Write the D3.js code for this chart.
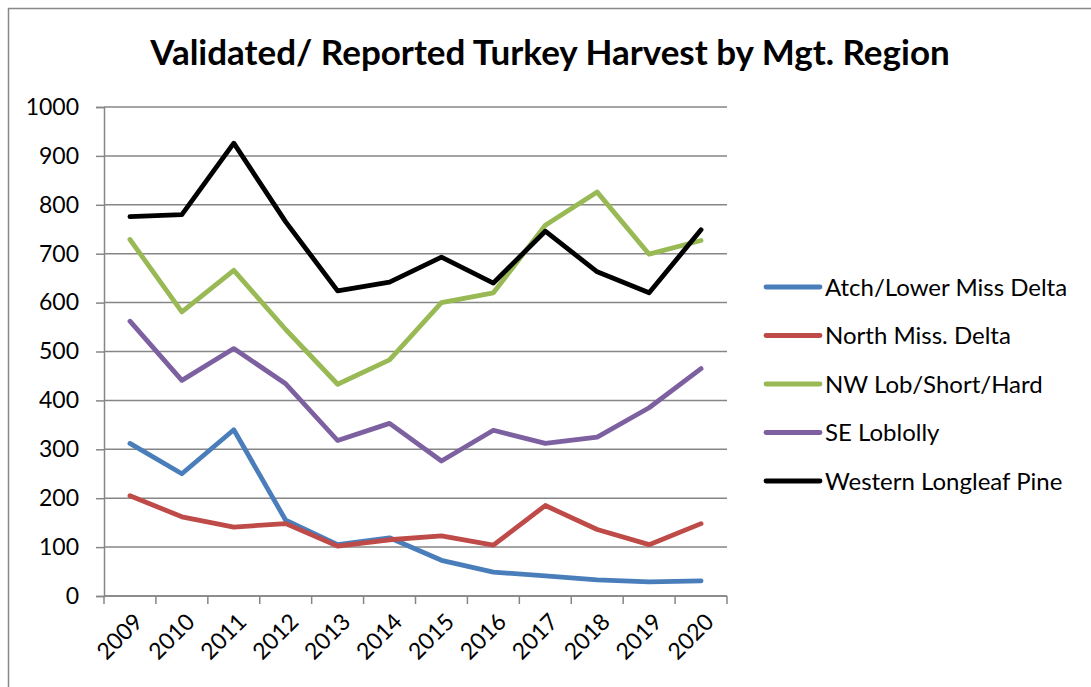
<!DOCTYPE html>
<html>
<head>
<meta charset="utf-8">
<script src="https://cdn.jsdelivr.net/npm/d3@7"></script>
<style>
  body { margin: 0; background: #fff; }
  svg { display: block; font-family: Lato, "Open Sans", sans-serif; }
</style>
</head>
<body>
<div id="chart"></div>
<script>
// data
const years = ["2009","2010","2011","2012","2013","2014","2015","2016","2017","2018","2019","2020"];
const atchLowerMissDelta = [312, 250, 340, 155, 105, 119, 73, 49, 41, 33, 29, 31];
const northMissDelta = [205, 162, 141, 148, 102, 115, 123, 104, 185, 136, 105, 148];
const nwLobShortHard = [729, 581, 666, 545, 433, 483, 600, 620, 758, 826, 699, 727];
const seLoblolly = [562, 441, 506, 434, 318, 353, 276, 339, 312, 325, 385, 465];
const westernLongleafPine = [776, 780, 926, 765, 624, 642, 693, 640, 746, 663, 620, 749];
const yTicks = [0, 100, 200, 300, 400, 500, 600, 700, 800, 900, 1000];

const seriesNames = ["Atch/Lower Miss Delta", "North Miss. Delta", "NW Lob/Short/Hard", "SE Loblolly", "Western Longleaf Pine"];
const seriesValues = [atchLowerMissDelta, northMissDelta, nwLobShortHard, seLoblolly, westernLongleafPine];
const colors = ["#4A7EBB", "#BE4B48", "#98B954", "#7D60A0", "#000000"];

const W = 1091, H = 687;
const margin = {top: 107, right: 364, bottom: 91, left: 104};
const width = W - margin.left - margin.right,
      height = H - margin.top - margin.bottom;

const svg = d3.select("#chart").append("svg")
    .attr("width", W)
    .attr("height", H);

// outer frame (only left and top visible)
svg.append("path")
    .attr("d", "M8.5," + H + "V8.5H" + W)
    .attr("fill", "none")
    .attr("stroke", "#888")
    .attr("stroke-width", 1.5);

svg.append("text")
    .attr("x", 550)
    .attr("y", 65)
    .attr("text-anchor", "middle")
    .style("font-size", "35px")
    .style("font-weight", "bold")
    .text("Validated/ Reported Turkey Harvest by Mgt. Region");

const g = svg.append("g")
    .attr("transform", "translate(" + margin.left + "," + margin.top + ")");

const x = d3.scaleBand().domain(years).range([0, width]);
const y = d3.scaleLinear().domain([0, 1000]).range([height, 0]);

// gridlines
g.append("g")
    .selectAll("line")
    .data(yTicks)
    .enter()
    .append("line")
    .attr("x1", 0)
    .attr("x2", width)
    .attr("y1", d => y(d))
    .attr("y2", d => y(d))
    .attr("stroke", "#868686")
    .attr("stroke-width", 1.5);

// y axis
const yAxis = g.append("g")
    .call(d3.axisLeft(y).tickValues(yTicks).tickFormat(d3.format("d")).tickSize(8).tickPadding(17));
yAxis.selectAll("line").attr("stroke", "#868686").attr("stroke-width", 1.5);
yAxis.select(".domain").attr("stroke", "#868686").attr("stroke-width", 1.5);
yAxis.selectAll("text")
    .style("font-size", "23px")
    .style("font-family", "Lato, 'Open Sans', sans-serif")
    .attr("fill", "#000");

// x axis: ticks on band edges
const xAxis = g.append("g")
    .attr("transform", "translate(0," + height + ")");
xAxis.append("line")
    .attr("x1", 0).attr("x2", width)
    .attr("stroke", "#868686").attr("stroke-width", 1.5);
xAxis.selectAll(".tk")
    .data(years.concat(["end"]))
    .enter()
    .append("line")
    .attr("x1", (d, i) => i * x.step())
    .attr("x2", (d, i) => i * x.step())
    .attr("y1", 0).attr("y2", 8)
    .attr("stroke", "#868686").attr("stroke-width", 1.5);
xAxis.selectAll("text")
    .data(years)
    .enter()
    .append("text")
    .attr("transform", d => "translate(" + (x(d) + x.bandwidth() / 2 + 2) + ",15)rotate(-45)")
    .attr("text-anchor", "end")
    .attr("dy", "0.75em")
    .style("font-size", "23px")
    .text(d => d);

// lines
const line = d3.line()
    .x((d, i) => x(years[i]) + x.bandwidth() / 2)
    .y(d => y(d));

g.selectAll(".series")
    .data(seriesValues)
    .enter()
    .append("path")
    .attr("d", d => line(d))
    .attr("fill", "none")
    .attr("stroke", (d, i) => colors[i])
    .attr("stroke-width", 4.8)
    .attr("stroke-linejoin", "round")
    .attr("stroke-linecap", "round");

// legend
const legend = svg.append("g")
    .attr("transform", "translate(766,287)");
const item = legend.selectAll("g")
    .data(seriesNames)
    .enter()
    .append("g")
    .attr("transform", (d, i) => "translate(0," + i * 48.5 + ")");
item.append("line")
    .attr("x1", 0).attr("x2", 54)
    .attr("stroke", (d, i) => colors[i])
    .attr("stroke-width", 4.8)
    .attr("stroke-linecap", "round");
item.append("text")
    .attr("x", 59)
    .attr("dy", "0.36em")
    .style("font-size", "24px")
    .text(d => d);
</script>
</body>
</html>
